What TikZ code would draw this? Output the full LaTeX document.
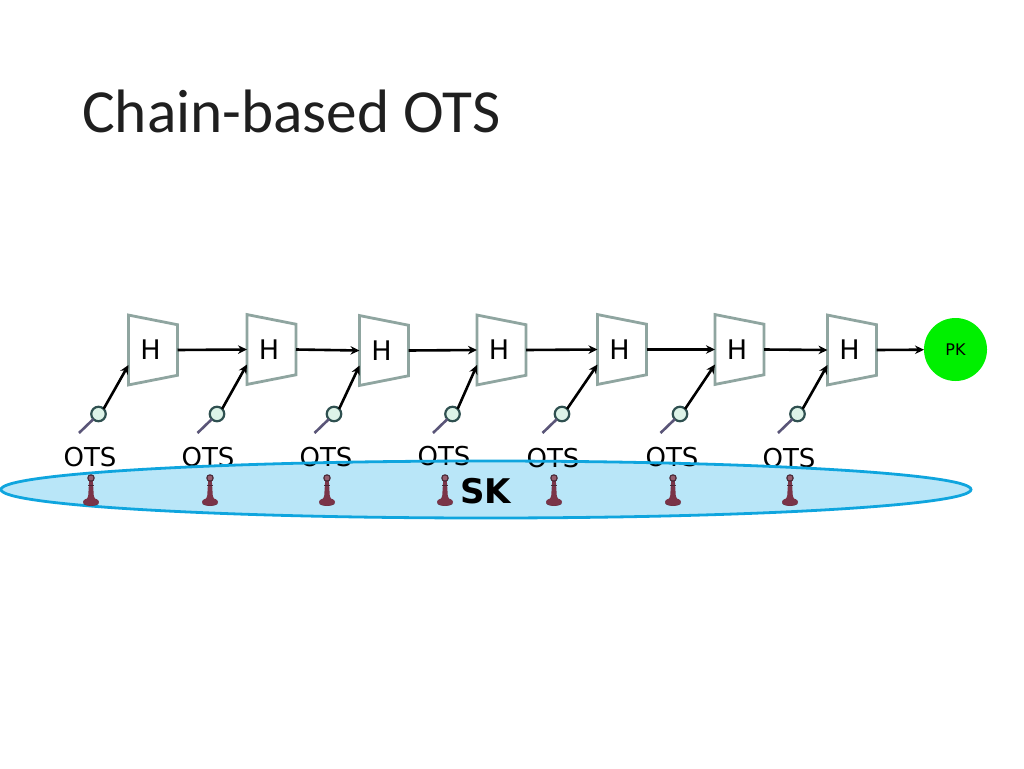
\documentclass[tikz,border=0pt]{standalone}
\usepackage{fontspec}
\setmainfont{DejaVu Sans}
\newfontfamily\titlefont{Carlito}
\usetikzlibrary{shapes.geometric,arrows.meta}
\definecolor{hgrey}{HTML}{8FA5A0}
\definecolor{skfill}{HTML}{B9E6F8}
\definecolor{skline}{HTML}{0FA5DE}
\definecolor{pawn}{HTML}{7A3448}
\definecolor{pawnd}{HTML}{4A2A38}
\definecolor{lensedge}{HTML}{2F5050}
\definecolor{lensfill}{HTML}{DDF3E8}
\definecolor{handle}{HTML}{5A5578}
\definecolor{pkgreen}{HTML}{00F000}
\tikzset{
  x=1pt,y=-1pt,
  hbox/.style={trapezium,shape border rotate=270,trapezium angle=76.2,trapezium stretches=true,
    draw=hgrey,line width=2.8pt,fill=white,minimum width=70pt,minimum height=49pt,inner sep=0pt,outer sep=0pt,font=\fontsize{27}{27}\selectfont},
  link/.style={line width=2.6pt,-{Stealth[length=9pt,width=8.5pt]}},
  otsl/.style={font=\fontsize{26}{26}\selectfont,inner sep=0pt},
  lens/.style={circle,draw=lensedge,line width=2.2pt,fill=lensfill,minimum size=14.5pt,inner sep=0pt,outer sep=0pt},
  handleline/.style={draw=handle,line width=2.6pt},
  skshape/.style={ellipse,minimum width=970pt,minimum height=57pt,inner sep=0pt},
}
\newcommand{\pawnat}[1]{%
  \begin{scope}[shift={(#1,0)}]
    \fill[pawn] (-1.8,480) -- (1.8,480) -- (2.8,496) .. controls (3.2,499) and (5,499.5) .. (6,500)
      -- (-6,500) .. controls (-5,499.5) and (-3.2,499) .. (-2.8,496) -- cycle;
    \fill[pawn] (0,502) ellipse (8 and 4);
    \fill[pawnd] (-7,504) .. controls (-4,506.5) and (4,506.5) .. (7,504) -- (8,503) .. controls (7,506.8) and (-7,506.8) .. (-8,503) -- cycle;
    \fill[pawnd] (0,478) circle (3.8);
    \fill[pawn!80!white] (0,478) circle (2.4);
    \fill[pawnd] (-3,484.5) rectangle (3,485.5);
  \end{scope}}
\begin{document}
\begin{tikzpicture}
\useasboundingbox (0,0) rectangle (1024,768);
\fill[white] (0,0) rectangle (1024,768);
\node[anchor=base west,inner sep=0pt,font=\titlefont\fontsize{61.3}{61.3}\selectfont,text=black!88] (title) at (82,132) {Chain-based OTS};

% SK ellipse: fill, then the labels that overlap it, then its outline
\node[skshape,fill=skfill] (sk) at (486,489.5) {};
\foreach \n/\x/\y in {1/90/457,2/208/457,3/326/457,4/444/456,5/553/458,6/672/457,7/789/458}
  \node[otsl] (o\n) at (\x,\y) {OTS};
\node[skshape,draw=skline,line width=2.8pt] at (sk.center) {};
\foreach \x in {91,210,327,445,554,673,790} {\pawnat{\x}}
\node[font=\bfseries\fontsize{34}{34}\selectfont,inner sep=0pt] (sklabel) at (485.5,491) {SK};

% hash boxes
\foreach \n/\x/\y in {1/153/350,2/271.5/349.5,3/384/350.5,4/501.5/350,5/622/349.5,6/739.5/349.5,7/852/350}
  \node[hbox] (h\n) at (\x,\y) {\hspace{-5pt}H};

\node[circle,fill=pkgreen,minimum size=63pt,inner sep=0pt,outer sep=0pt,font=\fontsize{16}{16}\selectfont] (pk) at (955.5,349.5) {PK};

% chain arrows
\foreach \a/\b in {1/2,2/3,3/4,4/5,5/6,6/7}
  \draw[link] (h\a.east |- h\a.center) -- (h\b.west |- h\b.center);
\draw[link] (h7.east |- h7.center) -- (pk);

% verifiers
\foreach \n/\x/\y in {1/98.5/414,2/217/414,3/334/414,4/452.5/414,5/562/414,6/680/414,7/797.5/414} {
  \node[lens] (l\n) at (\x,\y) {};
  \coordinate (e\n) at (\x-19.5,\y+19);
  \draw[handleline] (l\n.south west) -- (e\n);
  \coordinate (t\n) at ([yshift=-15pt]h\n.west |- h\n.center);
  \draw[link] (l\n.north east) -- (t\n);
}
\end{tikzpicture}
\end{document}
